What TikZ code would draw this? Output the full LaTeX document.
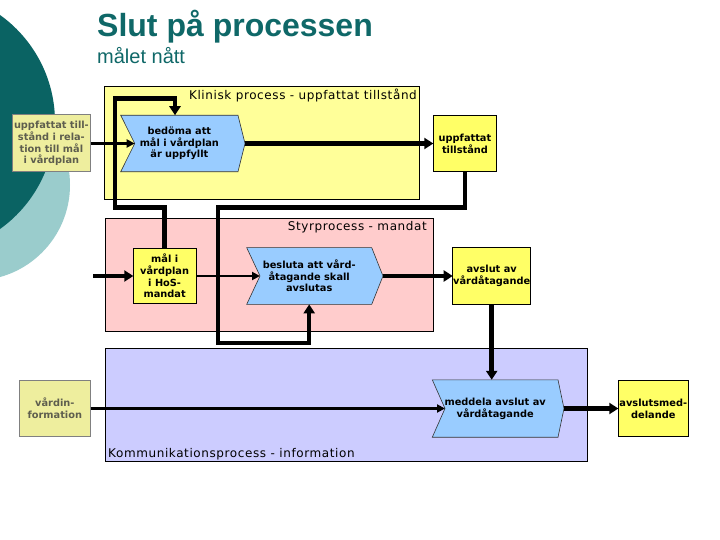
\documentclass[tikz,border=0pt]{standalone}
\usepackage{fontspec}
\setmainfont{DejaVu Sans}
\newfontfamily\titlefont{Liberation Sans}
\newfontfamily\lblfont[LetterSpace=5]{DejaVu Sans}
\usetikzlibrary{arrows.meta}
\definecolor{tealtitle}{HTML}{0F6868}
\definecolor{tealdark}{HTML}{0A6363}
\definecolor{teallight}{HTML}{9ACCCC}
\definecolor{klinfill}{HTML}{FFFF99}
\definecolor{styrfill}{HTML}{FFCCCC}
\definecolor{kommfill}{HTML}{CCCCFF}
\definecolor{chevfill}{HTML}{99CCFF}
\definecolor{yelfill}{HTML}{FFFF66}
\definecolor{khakifill}{HTML}{EEEE9E}
\definecolor{khakitext}{HTML}{5E5E4E}
\pgfdeclarelayer{back}
\pgfdeclarelayer{chev}
\pgfsetlayers{back,chev,main}
\begin{document}
\begin{tikzpicture}[x=1pt,y=-1pt,
  nodefont/.style={font=\fontsize{9.8}{11.7}\selectfont\bfseries},
  ybox/.style={nodefont, draw=black, line width=0.8pt, fill=yelfill, align=center, inner sep=0pt, outer sep=0pt},
  kbox/.style={nodefont, draw=gray, line width=1pt, fill=khakifill, text=khakitext, align=center, inner sep=0pt, outer sep=0pt},
  chevnode/.style={nodefont, align=center, inner sep=0pt, outer sep=0pt},
  chevshape/.style={draw=black!80, line width=0.6pt, fill=chevfill},
  procbox/.style={draw=black, line width=0.9pt},
  proclabel/.style={font=\lblfont\fontsize{12}{14}\selectfont, inner sep=0pt},
  thickarr/.style={line width=4.5pt, -{Triangle[length=9pt,width=11pt]}},
  thinarr/.style={line width=2.2pt, -{Triangle[length=8pt,width=8pt]}}
]
\path[use as bounding box] (0,0) rectangle (720,540);
\clip (0,0) rectangle (720,540);

\begin{pgfonlayer}{back}
  \fill[white] (0,0) rectangle (720,540);
  \fill[teallight] (-25.5,185) circle[radius=95.5pt];
  \fill[tealdark] (-76.6,122) circle[radius=131.6pt];
  \draw[procbox, fill=klinfill] (104,86) rectangle (419.5,199);
  \draw[procbox, fill=styrfill] (105.5,218) rectangle (433,331);
  \draw[procbox, fill=kommfill] (105.5,348) rectangle (587,461);
\end{pgfonlayer}

% titles
\node[anchor=base west, inner sep=0pt, text=tealtitle, font=\titlefont\bfseries\fontsize{32}{36}\selectfont] (title) at (97,36.5) {Slut på processen};
\node[anchor=base west, inner sep=0pt, text=tealtitle, font=\titlefont\fontsize{20}{24}\selectfont] (subtitle) at (97,63.5) {målet nått};

% process labels
\node[proclabel, anchor=base east] (klab) at (417,99.5) {Klinisk process - uppfattat tillstånd};
\node[proclabel, anchor=base east] (slab) at (427,230.5) {Styrprocess - mandat};
\node[proclabel, anchor=base west] (clab) at (108,457.5) {Kommunikationsprocess - information};

% nodes
\node[kbox, minimum width=78.2pt, minimum height=57pt] (k1) at (51.4,143.5) {uppfattat till-\\stånd i rela-\\tion till mål\\i vårdplan};
\node[chevnode, minimum width=117.3pt, minimum height=56.5pt] (bed) at (179.35,143.5) {bedöma att\\mål i vårdplan\\är uppfyllt};
\node[ybox, minimum width=63.4pt, minimum height=56.3pt] (upp) at (465,143.5) {uppfattat\\tillstånd};

\node[ybox, minimum width=62.7pt, minimum height=55.7pt] (mal) at (164.65,276) {mål i\\vårdplan\\i HoS-\\mandat};
\node[chevnode, minimum width=125pt, minimum height=56.7pt] (bes) at (309.2,276) {besluta att vård-\\åtagande skall\\avslutas};
\node[ybox, minimum width=78pt, minimum height=57.6pt] (avs) at (491.7,276) {avslut av\\vårdåtagande};

\node[kbox, minimum width=71.7pt, minimum height=56pt] (vinf) at (54.85,408.5) {vårdin-\\formation};
\node[chevnode, minimum width=125.7pt, minimum height=57.4pt] (med) at (495.15,408.5) {meddela avslut av\\vårdåtagande};
\node[ybox, minimum width=70pt, minimum height=56.7pt] (asm) at (653.3,408.5) {avslutsmed-\\delande};

\begin{pgfonlayer}{chev}
  \draw[chevshape] (bed.north west) -- (bed.north east) -- ([xshift=7]bed.east) -- (bed.south east) -- (bed.south west) -- ([xshift=14]bed.west) -- cycle;
  \draw[chevshape] (bes.north west) -- (bes.north east) -- ([xshift=11.3]bes.east) -- (bes.south east) -- (bes.south west) -- ([xshift=13.3]bes.west) -- cycle;
  \draw[chevshape] (med.north west) -- (med.north east) -- ([xshift=6]med.east) -- (med.south east) -- (med.south west) -- ([xshift=12.7]med.west) -- cycle;
\end{pgfonlayer}

% connectors
\coordinate (inL) at (93,276);
\draw[thinarr] (k1.east) -- ([xshift=14]bed.west);
\draw[thickarr] ([xshift=7]bed.east) -- (upp.west);
\draw[thickarr] (upp.south) |- (218,207.5) -- (218,343) -| (bes.south);
\draw[thickarr] (mal.north) |- (115,207.5) |- (175,98.5) -- (175,0 |- bed.north);
\draw[thickarr] (inL) -- (mal.west);
\draw[thinarr] (mal.east) -- ([xshift=13.3]bes.west);
\draw[thickarr] ([xshift=11.3]bes.east) -- (avs.west);
\draw[thickarr] (avs.south) -- (avs.south |- med.north);
\draw[thinarr] (vinf.east) -- ([xshift=12.7]med.west);
\draw[thickarr] ([xshift=6]med.east) -- (asm.west);
\end{tikzpicture}
\end{document}
